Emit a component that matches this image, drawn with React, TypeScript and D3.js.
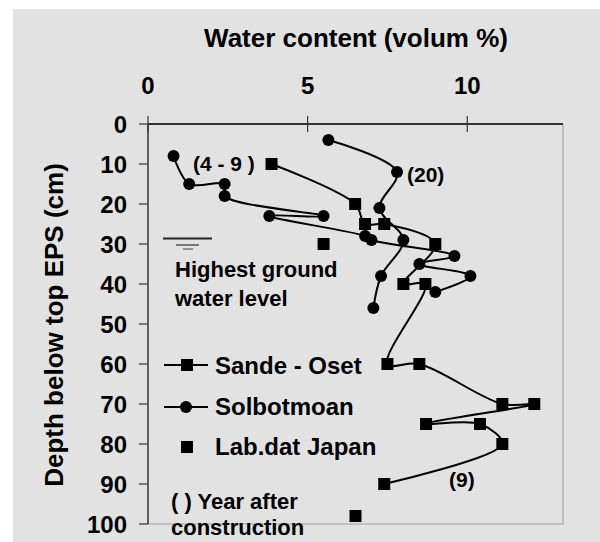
import React, { useEffect, useRef } from "react";
import * as d3 from "d3";

// Sande - Oset (squares, smoothed line)
const sandeWater = [3.87, 6.49, 6.8, 7.4, 9.0, 8.0, 8.69, 7.5, 8.5, 11.1, 12.1, 8.71, 10.4, 11.1, 7.4];
const sandeDepth = [10, 20, 25, 25, 30, 40, 40, 60, 60, 70, 70, 75, 75, 80, 90];

// Solbotmoan (circles) - two profiles, (4 - 9) years and (20) years
const solbotAWater = [0.8, 1.29, 2.4, 2.4, 5.5, 3.8, 6.8, 7.0, 9.6, 8.5, 10.1, 9.0];
const solbotADepth = [8, 15, 15, 18, 23, 23, 28, 29, 33, 35, 38, 42];
const solbotBWater = [5.65, 7.8, 7.25, 8.0, 7.3, 7.06];
const solbotBDepth = [4, 12, 21, 29, 38, 46];

// Lab.dat Japan (squares only)
const labWater = [5.5, 6.5];
const labDepth = [30, 98];

const xTicks = [0, 5, 10];
const yTicks = [0, 10, 20, 30, 40, 50, 60, 70, 80, 90, 100];

const W = 600;
const H = 542;
const margin = { left: 148, top: 124, right: 37, bottom: 18 };
const FONT = "'Liberation Sans', Arial, sans-serif";

export default function App() {
  const svgRef = useRef<SVGSVGElement>(null);

  useEffect(() => {
    const svg = d3.select(svgRef.current);
    svg.selectAll("*").remove();

    const x = d3.scaleLinear().domain([0, 13]).range([margin.left, W - margin.right]);
    const y = d3.scaleLinear().domain([0, 100]).range([margin.top, H - margin.bottom]);

    svg
      .append("rect")
      .attr("x", 13)
      .attr("y", 9)
      .attr("width", W - 13)
      .attr("height", H - 9)
      .style("fill", "rgb(226,226,226)");

    // right and bottom plot border
    svg
      .append("path")
      .attr("d", `M${x(13)},${y(0)}V${y(100)}H${x(0)}`)
      .attr("fill", "none")
      .attr("stroke", "#c0c0c0")
      .attr("stroke-width", 2);

    // top axis
    const xAxis = svg.append("g").attr("transform", `translate(0,${y(0)})`);
    xAxis.append("line").attr("x1", x(0)).attr("x2", x(13)).attr("stroke", "#333").attr("stroke-width", 2);
    xAxis
      .selectAll(".tk")
      .data(xTicks)
      .join("line")
      .attr("x1", (d) => x(d))
      .attr("x2", (d) => x(d))
      .attr("y1", -8)
      .attr("y2", 8)
      .attr("stroke", "#333")
      .attr("stroke-width", 1.2);
    xAxis
      .selectAll(".lb")
      .data(xTicks)
      .join("text")
      .attr("x", (d) => x(d))
      .attr("y", 94 - y(0))
      .attr("text-anchor", "middle")
      .attr("font-family", FONT)
      .attr("font-weight", "bold")
      .attr("font-size", 24)
      .text((d) => d);

    // left axis
    const yAxis = svg.append("g").attr("transform", `translate(${x(0)},0)`);
    yAxis.append("line").attr("y1", y(0)).attr("y2", y(100)).attr("stroke", "#333").attr("stroke-width", 1.5);
    yAxis
      .selectAll(".tk")
      .data(yTicks)
      .join("line")
      .attr("x1", -9)
      .attr("x2", 0)
      .attr("y1", (d) => y(d))
      .attr("y2", (d) => y(d))
      .attr("stroke", "#333")
      .attr("stroke-width", 1.2);
    yAxis
      .selectAll(".lb")
      .data(yTicks)
      .join("text")
      .attr("x", -21)
      .attr("y", (d) => y(d) + 8.5)
      .attr("text-anchor", "end")
      .attr("font-family", FONT)
      .attr("font-weight", "bold")
      .attr("font-size", 24)
      .text((d) => d);

    // axis titles
    svg
      .append("text")
      .attr("x", 356)
      .attr("y", 47)
      .attr("text-anchor", "middle")
      .attr("font-family", FONT)
      .attr("font-weight", "bold")
      .attr("font-size", 26)
      .text("Water content (volum %)");
    svg
      .append("text")
      .attr("transform", `translate(63,325) rotate(-90)`)
      .attr("text-anchor", "middle")
      .attr("font-family", FONT)
      .attr("font-weight", "bold")
      .attr("font-size", 26)
      .text("Depth below top EPS (cm)");

    const line = d3
      .line<[number, number]>()
      .x((d) => x(d[0]))
      .y((d) => y(d[1]))
      .curve(d3.curveCatmullRom.alpha(0.5));

    const zip = (a: number[], b: number[]) => a.map((v, i) => [v, b[i]] as [number, number]);
    const sande = zip(sandeWater, sandeDepth);
    const solA = zip(solbotAWater, solbotADepth);
    const solB = zip(solbotBWater, solbotBDepth);
    const lab = zip(labWater, labDepth);

    [sande, solA, solB].forEach((s) =>
      svg.append("path").attr("d", line(s)).attr("fill", "none").attr("stroke", "#000").attr("stroke-width", 2)
    );

    const squares = (pts: [number, number][]) =>
      svg
        .append("g")
        .selectAll("rect")
        .data(pts)
        .join("rect")
        .attr("x", (d) => x(d[0]) - 6)
        .attr("y", (d) => y(d[1]) - 6)
        .attr("width", 12)
        .attr("height", 12)
        .attr("fill", "#000");
    squares(sande);
    squares(lab);
    [solA, solB].forEach((s) =>
      svg
        .append("g")
        .selectAll("circle")
        .data(s)
        .join("circle")
        .attr("cx", (d) => x(d[0]))
        .attr("cy", (d) => y(d[1]))
        .attr("r", 6)
        .attr("fill", "#000")
    );

    const label = (tx: number, ty: number, t: string, size: number) =>
      svg
        .append("text")
        .attr("x", tx)
        .attr("y", ty)
        .attr("font-family", FONT)
        .attr("font-weight", "bold")
        .attr("font-size", size)
        .text(t);

    // year annotations
    label(193, 171, "(4 - 9 )", 21);
    label(407, 182, "(20)", 21);
    label(449, 487, "(9)", 21);

    // ground water symbol
    const gw = svg.append("g").attr("stroke", "#222").attr("stroke-width", 1.5);
    gw.append("line").attr("x1", 163).attr("x2", 212).attr("y1", 238.5).attr("y2", 238.5).attr("stroke-width", 2);
    gw.append("line").attr("x1", 176).attr("x2", 199).attr("y1", 245).attr("y2", 245).attr("stroke", "#555");
    gw.append("line").attr("x1", 183).attr("x2", 193).attr("y1", 249).attr("y2", 249).attr("stroke", "#777");
    label(175, 277, "Highest ground", 22);
    label(175, 306, "water level", 22);

    // legend
    const lg = svg.append("g");
    lg.append("line").attr("x1", 164).attr("x2", 208).attr("y1", 365).attr("y2", 365).attr("stroke", "#000").attr("stroke-width", 2);
    lg.append("rect").attr("x", 181).attr("y", 359).attr("width", 12).attr("height", 12).attr("fill", "#000");
    lg.append("line").attr("x1", 164).attr("x2", 208).attr("y1", 407).attr("y2", 407).attr("stroke", "#000").attr("stroke-width", 2);
    lg.append("circle").attr("cx", 186).attr("cy", 407).attr("r", 6).attr("fill", "#000");
    lg.append("rect").attr("x", 181).attr("y", 441).attr("width", 12).attr("height", 12).attr("fill", "#000");
    label(215, 374, "Sande - Oset", 24);
    label(215, 415, "Solbotmoan", 24);
    label(215, 455, "Lab.dat Japan", 24);

    label(171, 509, "( ) Year after", 22);
    label(171, 535, "construction", 22);
  }, []);

  return (
    <div style={{ position: "absolute", left: 0, top: 0, width: W, height: H, background: "#ffffff" }}>
      <div style={{ position: "absolute", left: 13, top: 9, width: W - 13, height: H - 9, background: "#e2e2e2" }} />
      <svg ref={svgRef} width={W} height={H} style={{ position: "absolute", left: 0, top: 0, display: "block" }} />
    </div>
  );
}
